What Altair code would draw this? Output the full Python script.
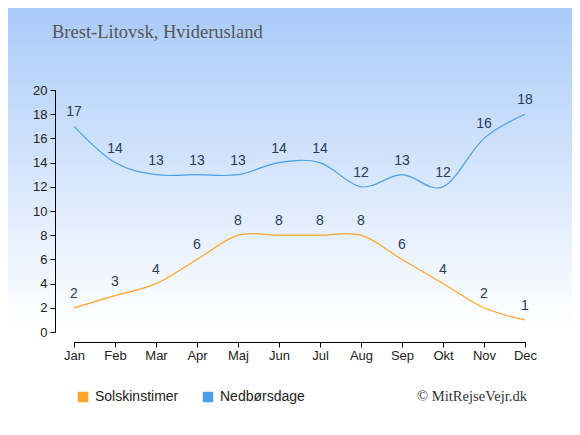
import altair as alt
import pandas as pd

months = ["Jan", "Feb", "Mar", "Apr", "Maj", "Jun", "Jul", "Aug", "Sep", "Okt", "Nov", "Dec"]
sun_hours = [2, 3, 4, 6, 8, 8, 8, 8, 6, 4, 2, 1]
rain_days = [17, 14, 13, 13, 13, 14, 14, 12, 13, 12, 16, 18]
series_names = ["Solskinstimer", "Nedbørsdage"]
series_colors = ["#ffa42e", "#4a9eea"]
y_ticks = list(range(0, 21, 2))
title_text = "Brest-Litovsk, Hviderusland"
credit_text = "© MitRejseVejr.dk"

W, H = 451, 242
PL, PT, PR, PB = 66, 82, 47, 95

df = pd.DataFrame({
    "month": months * 2,
    "value": sun_hours + rain_days,
    "series": [series_names[0]] * 12 + [series_names[1]] * 12,
})

one = pd.DataFrame({"a": [0]})

bg = alt.Chart(one).mark_rect(
    clip=False,
    color=alt.Gradient(
        gradient="linear", x1=0, x2=0, y1=0, y2=1,
        stops=[alt.GradientStop(color="#a9cbf9", offset=0),
               alt.GradientStop(color="#ffffff", offset=0.76)],
    ),
).encode(
    x=alt.value(-PL), x2=alt.value(W + PR),
    y=alt.value(-PT), y2=alt.value(H + PB),
)

xenc = alt.X("month:N", sort=months, scale=alt.Scale(type="point", padding=0),
             axis=alt.Axis(title=None, offset=10, tickSize=5, labelAngle=0,
                           labelFontSize=13, labelColor="#222222", labelPadding=2,
                           domainColor="#000000", tickColor="#000000",
                           labelFont="Liberation Sans", grid=False, zindex=1))
yenc = alt.Y("value:Q", scale=alt.Scale(domain=[0, 20], nice=False),
             axis=alt.Axis(title=None, offset=19, values=y_ticks, tickSize=5,
                           labelFontSize=13, labelColor="#222222", labelPadding=3,
                           domainColor="#000000", tickColor="#000000",
                           labelFont="Liberation Sans", grid=False, zindex=1))

cenc = alt.Color("series:N", sort=series_names,
                 scale=alt.Scale(domain=series_names, range=series_colors),
                 legend=alt.Legend(title=None, orient="none", direction="horizontal",
                                   legendX=2, legendY=300, symbolType="square",
                                   symbolSize=110, symbolStrokeWidth=0,
                                   symbolFillColor=alt.ExprRef("scale('color', datum.value)"),
                                   symbolOpacity=1,
                                   labelFontSize=14, labelFont="Liberation Sans",
                                   labelColor="#222222", columnPadding=22,
                                   labelOffset=5, zindex=1))

lines = alt.Chart(df).mark_line(interpolate="cardinal", strokeWidth=1.2).encode(
    x=xenc, y=yenc, color=cenc)

labels = alt.Chart(df).mark_text(dy=-14, fontSize=14, font="Liberation Sans",
                                 color="#2a3a5c", baseline="middle").encode(
    x=xenc, y=yenc, text="value:Q")

title = alt.Chart(one).mark_text(text=title_text, font="Liberation Serif", fontSize=18.5,
                                 color="#555555", align="left", baseline="alphabetic").encode(
    x=alt.value(52 - 74), y=alt.value(38 - 90))

credit = alt.Chart(one).mark_text(text=credit_text, font="Liberation Serif", fontSize=14.6,
                                  color="#333333", align="right", baseline="middle").encode(
    x=alt.value(527 - 74), y=alt.value(397 - 90))

chart = alt.layer(bg, lines, labels, title, credit).properties(
    width=W, height=H,
    autosize=alt.AutoSizeParams(type="none"),
    padding={"left": PL, "top": PT, "right": PR, "bottom": PB},
).configure_view(stroke=None).configure(background="#ffffff")

chart.save("out.html", embed_options={"renderer": "svg", "actions": False})
